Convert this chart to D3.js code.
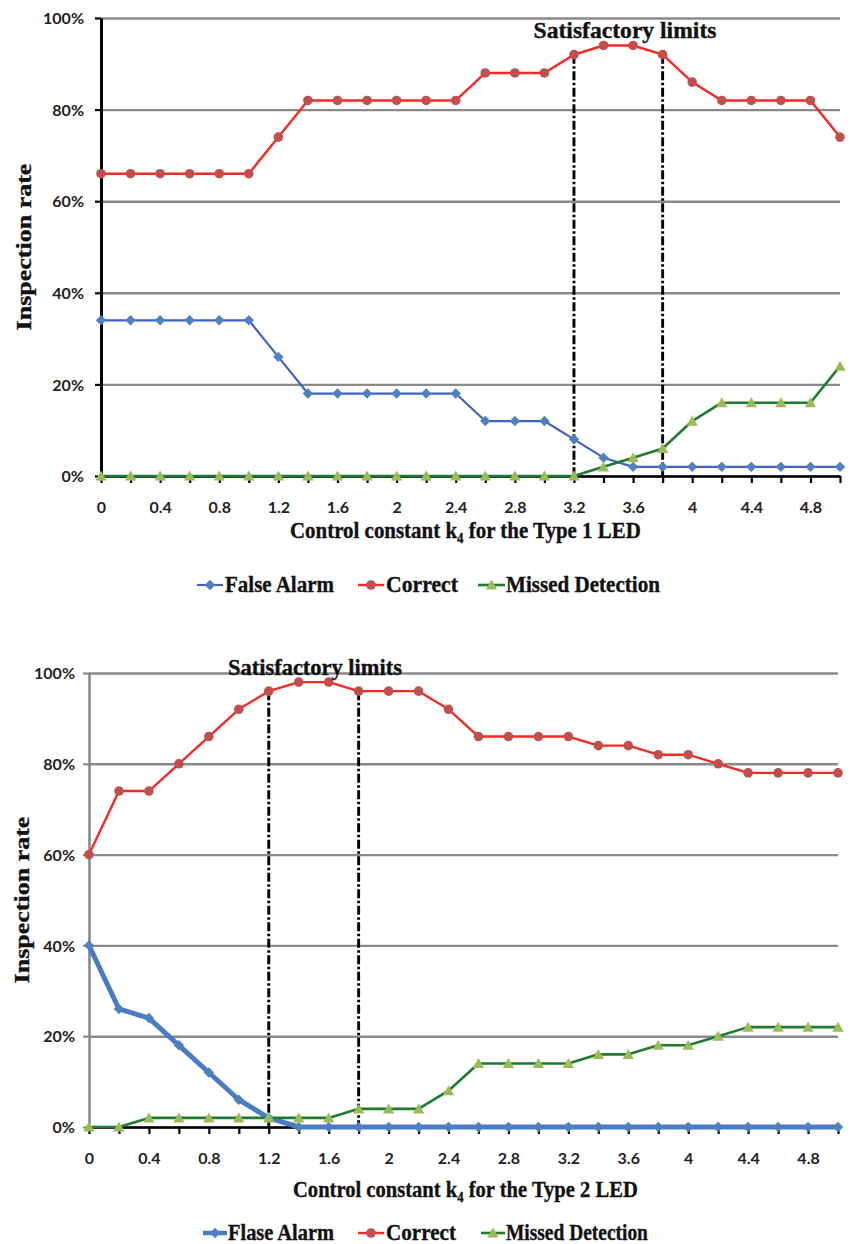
<!DOCTYPE html>
<html><head><meta charset="utf-8">
<script src="https://cdn.jsdelivr.net/npm/d3@7"></script>
<style>body{margin:0;background:#fff}svg{display:block}</style>
</head><body>
<svg id="c" width="851" height="1244"></svg>
<script>
// ---------------- DATA ----------------
const kValues = [0,0.2,0.4,0.6,0.8,1.0,1.2,1.4,1.6,1.8,2.0,2.2,2.4,2.6,2.8,3.0,3.2,3.4,3.6,3.8,4.0,4.2,4.4,4.6,4.8,5.0];
const xTickLabels = ["0","0.4","0.8","1.2","1.6","2","2.4","2.8","3.2","3.6","4","4.4","4.8"];
const yTickValues = [0,20,40,60,80,100];

const type1FalseAlarm = [34,34,34,34,34,34,26,18,18,18,18,18,18,12,12,12,8,4,2,2,2,2,2,2,2,2];
const type1Correct    = [66,66,66,66,66,66,74,82,82,82,82,82,82,88,88,88,92,94,94,92,86,82,82,82,82,74];
const type1Missed     = [0,0,0,0,0,0,0,0,0,0,0,0,0,0,0,0,0,2,4,6,12,16,16,16,16,24];

const type2FalseAlarm = [40,26,24,18,12,6,2,0,0,0,0,0,0,0,0,0,0,0,0,0,0,0,0,0,0,0];
const type2Correct    = [60,74,74,80,86,92,96,98,98,96,96,96,92,86,86,86,86,84,84,82,82,80,78,78,78,78];
const type2Missed     = [0,0,2,2,2,2,2,2,2,4,4,4,8,14,14,14,14,16,16,18,18,20,22,22,22,22];

const type1Limits = [3.2, 3.8];
const type2Limits = [1.2, 1.8];
const type1Legend = ["False Alarm", "Correct", "Missed Detection"];
const type2Legend = ["Flase Alarm", "Correct", "Missed Detection"];
const type1XTitle = ["Control constant k", "4", " for the Type 1 LED"];
const type2XTitle = ["Control constant k", "4", " for the Type 2 LED"];
const yTitle = "Inspection rate";
const limitLabel = "Satisfactory limits";

// ---------------- DRAWING ----------------
const svg = d3.select("#c");
const SERIF = "'Liberation Serif','Times New Roman',serif";
const SANS = "Lato,'Open Sans',sans-serif";

function fitText(parent, parts, opts) {
  const g = parent.append("g");
  const t = g.append("text").attr("x", 0).attr("y", 0)
    .attr("font-family", SERIF).attr("font-weight", "bold")
    .attr("font-size", opts.size).attr("fill", "#111")
    .attr("stroke", "#111").attr("stroke-width", 0.35)
    .attr("text-anchor", opts.anchor || "start");
  if (typeof parts === "string") {
    t.text(parts);
  } else {
    t.append("tspan").text(parts[0]);
    t.append("tspan").attr("font-size", opts.size * 0.62).attr("dy", 5).text(parts[1]);
    t.append("tspan").attr("dy", -5).text(parts[2]);
  }
  const w = t.node().getComputedTextLength();
  const sx = opts.width / w;
  if (opts.rotate) {
    g.attr("transform", `translate(${opts.x},${opts.y}) rotate(-90) scale(${sx},1)`);
  } else {
    g.attr("transform", `translate(${opts.x},${opts.y}) scale(${sx},1)`);
  }
  return g;
}

const diamond = r => `M0,${-r}L${r},0L0,${r}L${-r},0Z`;
const triangle = r => `M0,${-r}L${r*1.05},${r*0.85}L${-r*1.05},${r*0.85}Z`;

function marker(sel, shape, fill) {
  if (shape === "circle") {
    sel.append("circle").attr("r", 4.8).attr("fill", fill);
  } else if (shape === "diamond") {
    sel.append("path").attr("d", diamond(5.2)).attr("fill", fill);
  } else {
    sel.append("path").attr("d", triangle(5.4)).attr("fill", fill);
  }
}

function drawChart(cfg) {
  const g = svg.append("g");
  const x = d3.scaleLinear().domain([0, 5]).range([cfg.left, cfg.right]);
  const y = d3.scaleLinear().domain([0, 100]).range([cfg.bottom, cfg.top]);

  // gridlines
  const grid = g.append("g").attr("transform", `translate(${cfg.left},0)`)
    .call(d3.axisLeft(y).tickValues(yTickValues).tickSize(-(cfg.right - cfg.left)).tickFormat(""));
  grid.select(".domain").remove();
  grid.selectAll(".tick line").attr("stroke", "#8a8a8a").attr("stroke-width", 2.4);

  // y axis
  const ya = g.append("g").attr("transform", `translate(${cfg.left},0)`)
    .call(d3.axisLeft(y).tickValues(yTickValues).tickSize(6).tickSizeOuter(0)
      .tickFormat(d => d + "%"));
  ya.select(".domain").attr("stroke", cfg.yAxisColor).attr("stroke-width", cfg.yAxisWidth);
  ya.selectAll(".tick line").attr("stroke", cfg.yAxisColor).attr("stroke-width", 2.2);
  ya.selectAll(".tick text").attr("x", -cfg.yLabelOffset).attr("dy", "0.36em")
    .attr("font-family", SANS).attr("font-weight", "bold").attr("font-size", 16).attr("fill", "#222");

  // x axis
  const labelFor = d => {
    const lab = xTickLabels.find(l => Math.abs(+l - d) < 1e-9);
    return lab === undefined ? "" : lab;
  };
  const xa = g.append("g").attr("transform", `translate(0,${cfg.bottom})`)
    .call(d3.axisBottom(x).tickValues(kValues).tickSize(7).tickSizeOuter(0).tickFormat(labelFor));
  xa.select(".domain").attr("stroke", "#000").attr("stroke-width", 2.6);
  xa.selectAll(".tick line").attr("stroke", "#000").attr("stroke-width", 2.2);
  xa.selectAll(".tick text").attr("y", cfg.xLabelOffset).attr("dy", 0)
    .attr("font-family", SANS).attr("font-weight", "bold").attr("font-size", 16).attr("fill", "#222");

  // series lines
  const line = d3.line().x((d, i) => x(kValues[i])).y(d => y(d));
  cfg.series.forEach(s => {
    g.append("path").datum(s.values).attr("d", line)
      .attr("fill", "none").attr("stroke", s.lineColor).attr("stroke-width", s.lineWidth)
      .attr("stroke-linejoin", "round");
  });
  // limit lines
  const correct = cfg.series[1].values;
  cfg.limits.forEach(k => {
    const idx = kValues.findIndex(v => Math.abs(v - k) < 1e-9);
    g.append("line").attr("x1", x(k)).attr("x2", x(k))
      .attr("y1", y(correct[idx])).attr("y2", y(0))
      .attr("stroke", "#000").attr("stroke-width", 2.9)
      .attr("stroke-dasharray", "9,2.5,2.5,2.5");
  });
  // markers
  cfg.series.forEach(s => {
    s.values.forEach((v, i) => {
      const m = g.append("g").attr("transform", `translate(${x(kValues[i])},${y(v)})`);
      marker(m, s.shape, s.markerFill);
    });
  });

  // texts
  fitText(g, limitLabel, {x: cfg.sat.x, y: cfg.sat.y, width: cfg.sat.w, size: 22.5, anchor: "middle"});
  fitText(g, cfg.xTitle, {x: cfg.xTitlePos.x, y: cfg.xTitlePos.y, width: cfg.xTitlePos.w, size: 22.5});
  fitText(g, yTitle, {x: cfg.yTitlePos.x, y: cfg.yTitlePos.y, width: cfg.yTitlePos.w, size: 21, anchor: "middle", rotate: true});

  // legend
  cfg.legend.forEach((L, i) => {
    const s = cfg.series[i];
    const lg = g.append("g");
    const my = cfg.legendBaseline - 7;
    lg.append("line").attr("x1", L.sx0).attr("x2", L.sx1).attr("y1", my).attr("y2", my)
      .attr("stroke", s.lineColor).attr("stroke-width", s.legendWidth || s.lineWidth);
    const m = lg.append("g").attr("transform", `translate(${(L.sx0 + L.sx1) / 2},${my})`);
    marker(m, s.shape, s.markerFill);
    fitText(lg, cfg.legendLabels[i], {x: L.tx, y: cfg.legendBaseline, width: L.tw, size: 22.5});
  });
}

const BLUE_LINE = "#4163C2", BLUE_MARK = "#4F81BD";
const RED_LINE = "#F52A22", RED_MARK = "#C0504D";
const GREEN_LINE = "#1F7A31", GREEN_MARK = "#9BBB59";

drawChart({
  left: 101, right: 840, top: 18, bottom: 476,
  yAxisColor: "#000", yAxisWidth: 3, yLabelOffset: 17, xLabelOffset: 37,
  series: [
    {values: type1FalseAlarm, lineColor: BLUE_LINE, lineWidth: 2.2, markerFill: BLUE_MARK, shape: "diamond"},
    {values: type1Correct, lineColor: RED_LINE, lineWidth: 2.4, markerFill: RED_MARK, shape: "circle"},
    {values: type1Missed, lineColor: GREEN_LINE, lineWidth: 2.6, markerFill: GREEN_MARK, shape: "triangle"}
  ],
  limits: type1Limits,
  sat: {x: 625, y: 38, w: 183},
  xTitle: type1XTitle, xTitlePos: {x: 290, y: 538, w: 351},
  yTitlePos: {x: 31, y: 247, w: 167},
  legendLabels: type1Legend, legendBaseline: 592,
  legend: [
    {sx0: 197, sx1: 223, tx: 225, tw: 109},
    {sx0: 358, sx1: 384, tx: 386, tw: 72},
    {sx0: 478, sx1: 505, tx: 506, tw: 154}
  ]
});

drawChart({
  left: 89, right: 838, top: 673, bottom: 1127,
  yAxisColor: "#8a8a8a", yAxisWidth: 2.6, yLabelOffset: 14, xLabelOffset: 37,
  series: [
    {values: type2FalseAlarm, lineColor: "#4A7CC4", lineWidth: 5, legendWidth: 4.5, markerFill: BLUE_MARK, shape: "diamond"},
    {values: type2Correct, lineColor: RED_LINE, lineWidth: 2.4, markerFill: RED_MARK, shape: "circle"},
    {values: type2Missed, lineColor: GREEN_LINE, lineWidth: 2.6, markerFill: GREEN_MARK, shape: "triangle"}
  ],
  limits: type2Limits,
  sat: {x: 315, y: 675, w: 174},
  xTitle: type2XTitle, xTitlePos: {x: 293, y: 1197, w: 345},
  yTitlePos: {x: 29, y: 900, w: 167},
  legendLabels: type2Legend, legendBaseline: 1240,
  legend: [
    {sx0: 203, sx1: 227, tx: 228, tw: 106},
    {sx0: 358, sx1: 384, tx: 386, tw: 70},
    {sx0: 481, sx1: 505, tx: 506, tw: 142}
  ]
});
</script>
</body></html>
